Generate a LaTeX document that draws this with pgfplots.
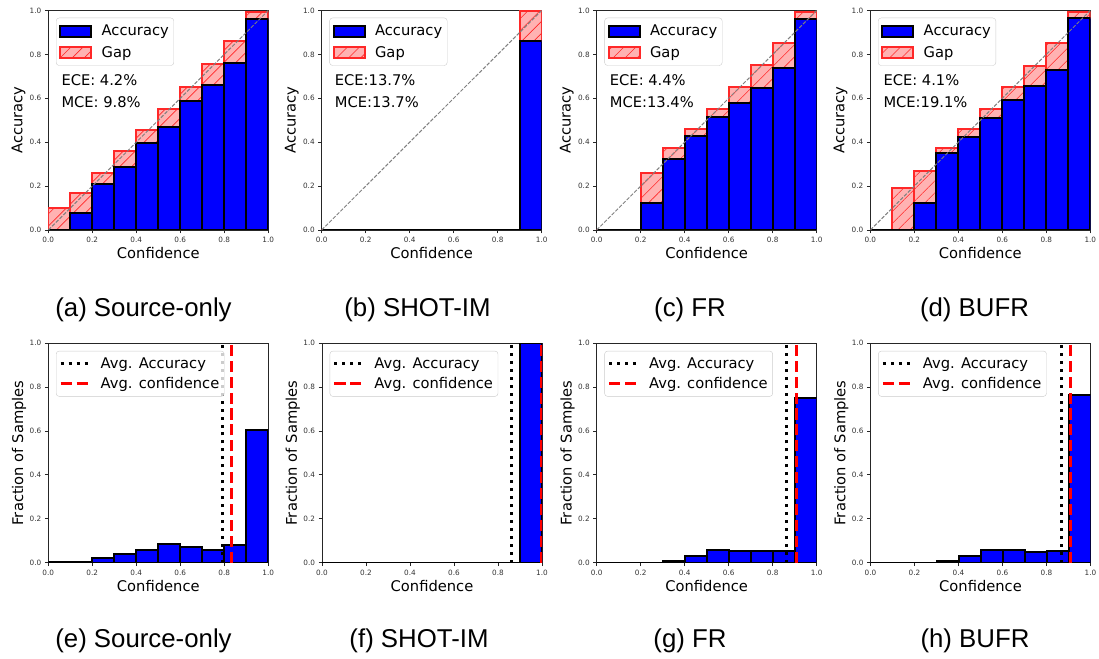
\documentclass[border=0pt]{standalone}
\usepackage{fontspec}
\setmainfont{DejaVu Sans}
\newfontfamily\capfont{Liberation Sans}
\usepackage{pgfplots}
\usepackage{pgfplotstable}
\pgfplotsset{compat=1.18}
\usetikzlibrary{patterns.meta}
\definecolor{barblue}{RGB}{0,0,255}
\definecolor{gapfill}{RGB}{255,178,178}
\definecolor{gapedge}{RGB}{255,40,40}
\newcommand{\lbl}{\fontsize{14.7bp}{17bp}\selectfont}
\newcommand{\tck}{\fontsize{7.3bp}{8.5bp}\selectfont}
\newcommand{\capsz}{\capfont\fontsize{25.8bp}{30bp}\selectfont}

% reliability data: bin centre, accuracy, gap (confidence - accuracy)
\pgfplotstableread{
x acc gap
0.05 0.000 0.098
0.15 0.076 0.094
0.25 0.210 0.048
0.35 0.289 0.071
0.45 0.398 0.058
0.55 0.471 0.082
0.65 0.588 0.065
0.75 0.661 0.094
0.85 0.763 0.096
0.95 0.962 0.029
}\relA
\pgfplotstableread{
x acc gap
0.05 0.000 0.000
0.15 0.000 0.000
0.25 0.000 0.000
0.35 0.000 0.000
0.45 0.000 0.000
0.55 0.000 0.000
0.65 0.000 0.000
0.75 0.000 0.000
0.85 0.000 0.000
0.95 0.862 0.137
}\relB
\pgfplotstableread{
x acc gap
0.05 0.000 0.000
0.15 0.000 0.000
0.25 0.124 0.134
0.35 0.322 0.050
0.45 0.426 0.033
0.55 0.517 0.035
0.65 0.578 0.072
0.75 0.646 0.105
0.85 0.737 0.117
0.95 0.960 0.032
}\relC
\pgfplotstableread{
x acc gap
0.05 0.000 0.000
0.15 0.000 0.191
0.25 0.125 0.145
0.35 0.350 0.022
0.45 0.422 0.037
0.55 0.509 0.043
0.65 0.590 0.060
0.75 0.657 0.092
0.85 0.729 0.122
0.95 0.965 0.027
}\relD
% histograms: fraction of samples per bin
\pgfplotstableread{
x e f g h
0.05 0.002 0 0.000 0.000
0.15 0.005 0 0.000 0.000
0.25 0.020 0 0.000 0.000
0.35 0.038 0 0.009 0.009
0.45 0.057 0 0.032 0.032
0.55 0.085 0 0.057 0.056
0.65 0.070 0 0.054 0.056
0.75 0.060 0 0.054 0.050
0.85 0.079 0 0.053 0.053
0.95 0.605 1 0.750 0.762
}\hist

\pgfplotsset{
  panel/.style={scale only axis, width=220bp, height=219.5bp, anchor=south west,
    xmin=0, xmax=1, ymin=0, ymax=1,
    xtick={0,0.2,0.4,0.6,0.8,1}, ytick={0,0.2,0.4,0.6,0.8,1},
    xticklabels={0.0,0.2,0.4,0.6,0.8,1.0}, yticklabels={0.0,0.2,0.4,0.6,0.8,1.0},
    tick pos=left, tick align=outside, major tick length=3.5bp,
    major tick style={black!85, line width=0.8bp},
    axis line style={black!85, line width=0.8bp},
    tick label style={font=\tck, text=black!80},
    label style={font=\lbl},
    xlabel=Confidence,
    xlabel style={at={(axis description cs:0.5,0)}, anchor=base, yshift=-29bp},
  },
  legbox/.style={legend cell align=left,
    legend style={anchor=north west,
      draw=black!20, fill=white, fill opacity=0.8, draw opacity=1, text opacity=1,
      rounded corners=3bp, font=\lbl, inner xsep=3bp, inner ysep=4.5bp, row sep=3.5bp}},
  ovl/.style={scale only axis, width=220bp, height=219.5bp, anchor=south west,
    xmin=0, xmax=1, ymin=0, ymax=1, hide axis, legbox,
    legend style={at={(axis description cs:0.035,0.967)}, row sep=5bp, inner ysep=5bp},
    legend image code/.code={\draw[#1, sharp corners, fill opacity=1] (0bp,-5.5bp) rectangle (31bp,5.5bp);
      \path (38.5bp,0bp);},
  },
  hst/.style={panel, ylabel={Fraction of Samples},
    ylabel style={at={(axis description cs:-0.114,0.5)}, anchor=base},
    xlabel style={yshift=0.5bp}, legbox,
    legend style={at={(axis description cs:0.035,0.965)}},
    legend image code/.code={\draw[#1, sharp corners] (0bp,0bp) -- (28bp,0bp); \path (36.5bp,0bp);},
  },
  accstyle/.style={fill=barblue, draw=black, line width=2bp},
  gapstyle/.style={fill=gapfill, draw=gapedge, line width=2bp,
    postaction={pattern={Lines[angle=45,distance=8.5bp,line width=0.6bp]}, pattern color=gapedge}},
  diag/.style={gray, line width=1bp, dash pattern=on 3.7bp off 1.6bp},
  avgacc/.style={black, line width=3bp, dash pattern=on 3bp off 4.95bp},
  avgconf/.style={red, line width=3bp, dash pattern=on 11.1bp off 4.8bp},
}

\newcommand{\relpanel}[4]{%
\begin{axis}[panel, at={(#1)}, ylabel=Accuracy,
  ylabel style={at={(axis description cs:-0.118,0.5)}, anchor=base},
  ybar stacked, stacked ignores zero=false, bar width=0.1]
\addplot[accstyle] table[x=x,y=acc] {#2};
\addplot[gapstyle] table[x=x,y=gap] {#2};
\end{axis}
\begin{axis}[ovl, at={(#1)}]
\addplot[diag, forget plot] coordinates {(0,0) (1,1)};
\addlegendimage{accstyle}
\addlegendentry{Accuracy}
\addlegendimage{gapstyle}
\addlegendentry{Gap}
\node[anchor=base west, font=\lbl] at (axis description cs:0.044,0.657) {#3};
\node[anchor=base west, font=\lbl] at (axis description cs:0.044,0.560) {#4};
\end{axis}}

\newcommand{\histpanel}[4]{%
\begin{axis}[hst, at={(#1)}]
\addplot[ybar, bar width=0.1, bar shift=0pt, accstyle, forget plot] table[x=x,y=#2] {\hist};
\addplot[avgacc] coordinates {(#3,0) (#3,1)};
\addlegendentry{Avg. Accuracy}
\addplot[avgconf] coordinates {(#4,0) (#4,1)};
\addlegendentry{Avg. confidence}
\end{axis}}

\begin{document}
\begin{tikzpicture}
\useasboundingbox (0,0) rectangle (1099bp,659bp);
\relpanel{48.3bp,429bp}{\relA}{ECE: 4.2\%}{MCE: 9.8\%}
\relpanel{321.7bp,429bp}{\relB}{ECE:13.7\%}{MCE:13.7\%}
\relpanel{596.7bp,429bp}{\relC}{ECE: 4.4\%}{MCE:13.4\%}
\relpanel{870.3bp,429bp}{\relD}{ECE: 4.1\%}{MCE:19.1\%}
\histpanel{48.3bp,96.3bp}{e}{0.792}{0.833}
\histpanel{322bp,96.3bp}{f}{0.863}{0.998}
\histpanel{596.7bp,96.3bp}{g}{0.861}{0.906}
\histpanel{870.5bp,96.3bp}{h}{0.870}{0.911}
\node[font=\capsz, anchor=base] at (143.5bp,342bp) {(a) Source-only};
\node[font=\capsz, anchor=base] at (417.5bp,342bp) {(b) SHOT-IM};
\node[font=\capsz, anchor=base] at (690bp,342bp) {(c) FR};
\node[font=\capsz, anchor=base] at (974.5bp,342bp) {(d) BUFR};
\node[font=\capsz, anchor=base] at (143.5bp,12bp) {(e) Source-only};
\node[font=\capsz, anchor=base] at (419bp,12bp) {(f) SHOT-IM};
\node[font=\capsz, anchor=base] at (690bp,12bp) {(g) FR};
\node[font=\capsz, anchor=base] at (975bp,12bp) {(h) BUFR};
\end{tikzpicture}
\end{document}
